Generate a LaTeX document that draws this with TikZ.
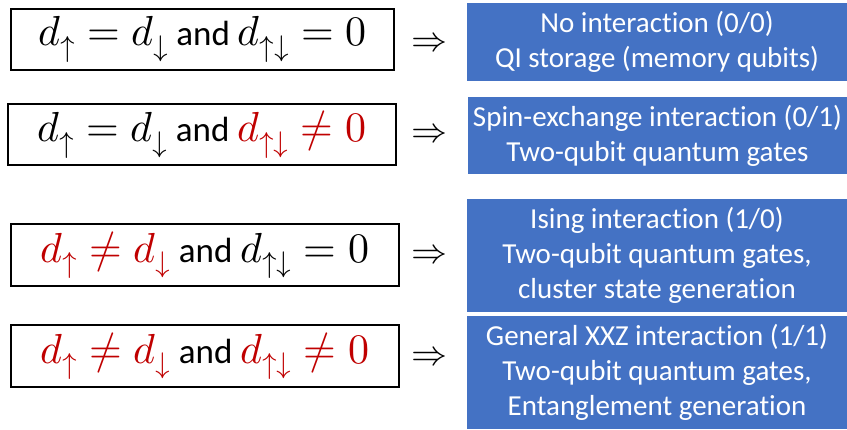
\documentclass[tikz,border=0pt]{standalone}
\usepackage{fontspec}
\usepackage{unicode-math}
\setmainfont{Carlito}[Ligatures=NoCommon]
\setmathfont{Latin Modern Math}
\definecolor{boxblue}{HTML}{4472C4}
\definecolor{dred}{HTML}{C00000}
\tikzset{
  condbox/.style={draw=black, line width=1.5pt, inner sep=0pt, align=center,
    font=\fontsize{35}{40}\selectfont},
  resbox/.style={fill=boxblue, draw=none, inner sep=0pt, align=center, text=white,
    font=\fontsize{29}{35}\selectfont},
  impl/.style={inner sep=0pt, font=\fontsize{36}{40}\selectfont}
}
\newcommand{\mbig}[1]{{\fontsize{42}{44}\selectfont$#1$}}
\begin{document}
\begin{tikzpicture}[x=1pt,y=-1pt]
\useasboundingbox[fill=white] (0,0) rectangle (847,429);
% condition boxes
\node[condbox, minimum width=383pt, minimum height=61pt] (c1) at (202.5,39.5)
  {\mbig{d_\uparrow = d_\downarrow} and \mbig{d_{\uparrow\downarrow} = 0}};
\node[condbox, minimum width=388pt, minimum height=61pt] (c2) at (202,134.5)
  {\mbig{d_\uparrow = d_\downarrow} and \mbig{\color{dred}d_{\uparrow\downarrow} \neq 0}};
\node[condbox, minimum width=388pt, minimum height=62pt] (c3) at (205,255)
  {\mbig{\color{dred}d_\uparrow \neq d_\downarrow} and \mbig{d_{\uparrow\downarrow} = 0}};
\node[condbox, minimum width=388pt, minimum height=62pt] (c4) at (205,356)
  {\mbig{\color{dred}d_\uparrow \neq d_\downarrow} and \mbig{\color{dred}d_{\uparrow\downarrow} \neq 0}};
% result boxes
\node[resbox, minimum width=380pt, minimum height=78pt] (r1) at (657,42)
  {No interaction (0/0)\\QI storage (memory qubits)};
\node[resbox, minimum width=379pt, minimum height=77pt] (r2) at (657.5,135.5)
  {Spin-exchange interaction (0/1)\\Two-qubit quantum gates};
\node[resbox, minimum width=380pt, minimum height=113pt] (r3) at (657,255.5)
  {Ising interaction (1/0)\\Two-qubit quantum gates,\\cluster state generation};
\node[resbox, minimum width=380pt, minimum height=113pt] (r4) at (657,372.5)
  {General XXZ interaction (1/1)\\Two-qubit quantum gates,\\Entanglement generation};
% implication signs
\node[impl] (a1) at (429,42) {$\Rightarrow$};
\node[impl] (a2) at (429,133) {$\Rightarrow$};
\node[impl] (a3) at (429,254) {$\Rightarrow$};
\node[impl] (a4) at (429,356) {$\Rightarrow$};
\end{tikzpicture}
\end{document}
